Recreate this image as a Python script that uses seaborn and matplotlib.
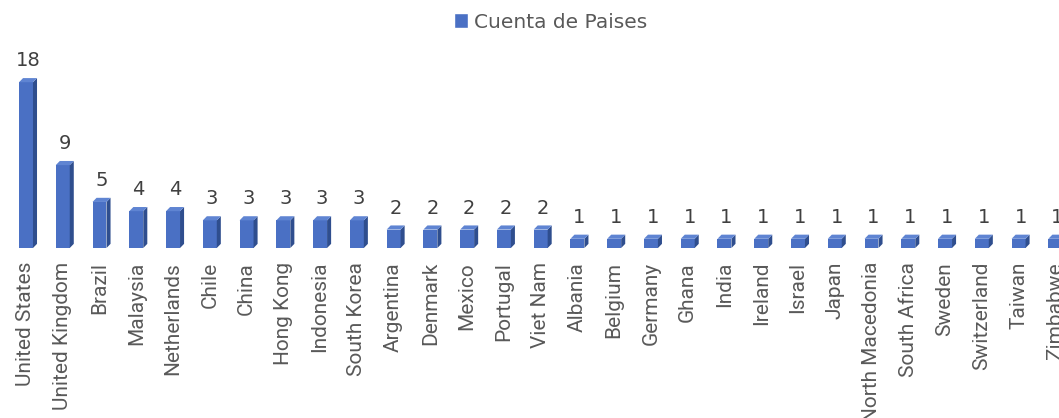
import numpy as np
import pandas as pd
import matplotlib
matplotlib.use("Agg")
import matplotlib.pyplot as plt
from matplotlib.patches import Polygon, Patch
import seaborn as sns

# datos del grafico
paises = ['United States', 'United Kingdom', 'Brazil', 'Malaysia', 'Netherlands',
          'Chile', 'China', 'Hong Kong', 'Indonesia', 'South Korea', 'Argentina',
          'Denmark', 'Mexico', 'Portugal', 'Viet Nam', 'Albania', 'Belgium',
          'Germany', 'Ghana', 'India', 'Ireland', 'Israel', 'Japan',
          'North Macedonia', 'South Africa', 'Sweden', 'Switzerland', 'Taiwan',
          'Zimbabwe']
cuenta = [18, 9, 5, 4, 4, 3, 3, 3, 3, 3, 2, 2, 2, 2, 2,
          1, 1, 1, 1, 1, 1, 1, 1, 1, 1, 1, 1, 1, 1]
serie = 'Cuenta de Paises'

color_frente = '#4A70C4'
color_lado = '#2F4E8E'
color_tapa = '#5F84D2'

df = pd.DataFrame({'pais': paises, 'cuenta': cuenta})

sns.set_theme(style='white')
plt.rcParams['font.family'] = ['DejaVu Sans']

fig = plt.figure(figsize=(10.59, 4.18), dpi=100)
ax = fig.add_axes([0.0, 1 - 248 / 418, 1.0, (248 - 50) / 418])

sns.barplot(data=df, x='pais', y='cuenta', color=color_frente, width=0.38,
            saturation=1, ax=ax, linewidth=0)

ax.set_xlim(-0.707, 28.1)
ax.set_ylim(0, 21.5)

# efecto 3D: cara lateral y tapa a partir de cada barra
dx, dy = 0.11, 0.45
for p in ax.patches:
    x0 = p.get_x()
    w = p.get_width()
    h = p.get_height()
    x1 = x0 + w
    lado = Polygon([(x1, 0), (x1 + dx, dy), (x1 + dx, h + dy), (x1, h)],
                   closed=True, facecolor=color_lado, edgecolor='none')
    tapa = Polygon([(x0, h), (x0 + dx, h + dy), (x1 + dx, h + dy), (x1, h)],
                   closed=True, facecolor=color_tapa, edgecolor='none')
    ax.add_patch(lado)
    ax.add_patch(tapa)
    ax.text(x0 + w / 2 + dx / 2, h + 1.3, f'{int(h)}', ha='center', va='bottom',
            fontsize=14, color='#404040')

for s in ax.spines.values():
    s.set_visible(False)
ax.set_yticks([])
ax.set_xlabel('')
ax.set_ylabel('')
ax.tick_params(axis='x', length=0, pad=10)
ax.set_xticks(range(len(paises)))
ax.set_xticklabels(paises, rotation=90, fontsize=15, color='#595959',
                   family=['Roboto', 'DejaVu Sans'])

fig.legend(handles=[Patch(facecolor=color_frente, label=serie)],
           loc='center', bbox_to_anchor=(0.52, 1 - 22 / 418), frameon=False,
           fontsize=14.5, handlelength=0.7, handleheight=0.7, handletextpad=0.3,
           labelcolor='#595959')

fig.savefig('out.png', dpi=100)
